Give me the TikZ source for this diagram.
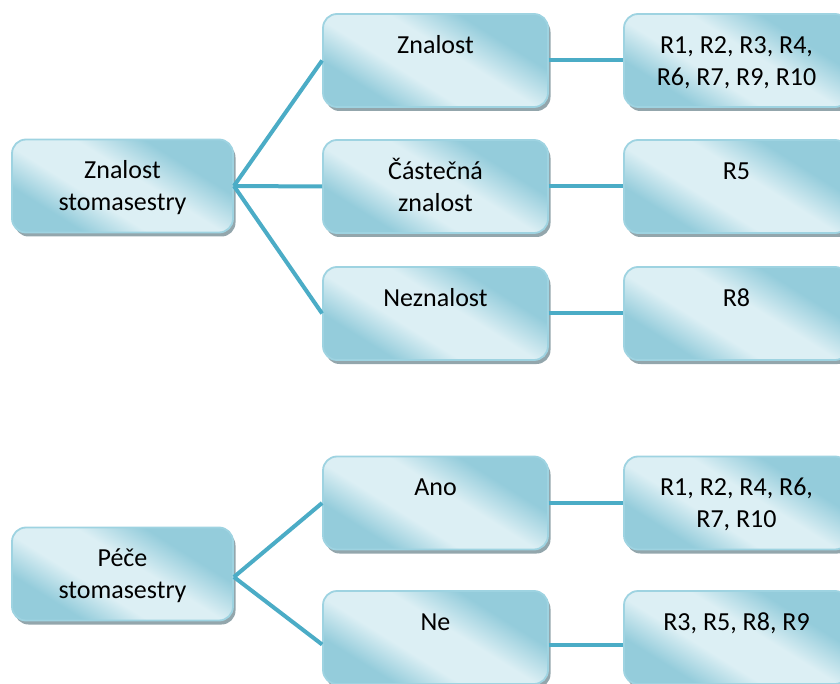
\documentclass[tikz,border=0pt]{standalone}
\usepackage{fontspec}
\setmainfont{Carlito}
\usetikzlibrary{shadows}

\definecolor{boxlight}{HTML}{DCEFF4}
\definecolor{boxdark}{HTML}{94CCDB}
\definecolor{boxedge}{HTML}{9ED3E1}
\definecolor{linkc}{HTML}{4BACC6}
\definecolor{shadowc}{HTML}{93A6AC}

% diagonal sheen: darker corners, broad light band across the middle
\pgfdeclarehorizontalshading{boxfill}{100bp}{%
  color(0bp)=(boxdark); color(29bp)=(boxdark); color(41bp)=(boxlight);
  color(55bp)=(boxlight); color(68bp)=(boxdark); color(100bp)=(boxdark)}

\newcommand{\firstline}{\rule{0pt}{25pt}}

\tikzset{
  card/.style={rectangle, rounded corners=14pt, draw=boxedge, line width=1.8pt,
    shading=boxfill, shading angle=58, minimum width=#1, minimum height=93pt,
    inner sep=0pt,
    drop shadow={shadow xshift=2.5pt, shadow yshift=-4pt, fill=shadowc, opacity=1}},
  card/.default=225pt,
  txt/.style={anchor=north, inner sep=0pt, align=center,
    font=\fontsize{26}{32}\selectfont},
  link/.style={draw=linkc, line width=4pt}
}

\begin{document}
\begin{tikzpicture}[x=1pt, y=-1pt]
  \useasboundingbox (0,0) rectangle (840,684);
  \clip (0,0) rectangle (840,684);

  % first tree: knowledge
  \node[card=221pt] (r1) at (122.5,186) {};
  \node[card] (m1) at (435.5,60.5) {};
  \node[card] (m2) at (435.5,186.5) {};
  \node[card] (m3) at (435.5,313.5) {};
  \node[card] (o1) at (736.5,60.5) {};
  \node[card] (o2) at (736.5,186.5) {};
  \node[card] (o3) at (736.5,313.5) {};

  % second tree: care
  \node[card=221pt] (r2) at (122.5,574) {};
  \node[card] (m4) at (435.5,503) {};
  \node[card] (m5) at (435.5,637.5) {};
  \node[card] (o4) at (736.5,503) {};
  \node[card] (o5) at (736.5,637.5) {};

  % labels
  \node[txt] (tr1) at ([yshift=-15pt]r1.north) {\firstline Znalost\\stomasestry};
  \node[txt] (tm1) at ([yshift=-15pt]m1.north) {\firstline Znalost};
  \node[txt] (tm2) at ([yshift=-15pt]m2.north) {\firstline Částečná\\znalost};
  \node[txt] (tm3) at ([yshift=-15pt]m3.north) {\firstline Neznalost};
  \node[txt] (to1) at ([yshift=-15pt]o1.north) {\firstline R1, R2, R3, R4,\\R6, R7, R9, R10};
  \node[txt] (to2) at ([yshift=-15pt]o2.north) {\firstline R5};
  \node[txt] (to3) at ([yshift=-15pt]o3.north) {\firstline R8};

  \node[txt] (tr2) at ([yshift=-15pt]r2.north) {\firstline Péče\\stomasestry};
  \node[txt] (tm4) at ([yshift=-15pt]m4.north) {\firstline Ano};
  \node[txt] (tm5) at ([yshift=-15pt]m5.north) {\firstline Ne};
  \node[txt] (to4) at ([yshift=-15pt]o4.north) {\firstline R1, R2, R4, R6,\\R7, R10};
  \node[txt] (to5) at ([yshift=-15pt]o5.north) {\firstline R3, R5, R8, R9};

  % connectors
  \draw[link] (r1.east) -- (m1.west);
  \draw[link] (r1.east) -- (m2.west);
  \draw[link] (r1.east) -- (m3.west);
  \draw[link] (m1.east) -- (o1.west);
  \draw[link] (m2.east) -- (o2.west);
  \draw[link] (m3.east) -- (o3.west);

  \draw[link] ([yshift=-3pt]r2.east) -- (m4.west);
  \draw[link] ([yshift=-3pt]r2.east) -- ([yshift=-7pt]m5.west);
  \draw[link] (m4.east) -- (o4.west);
  \draw[link] ([yshift=-7pt]m5.east) -- ([yshift=-7pt]o5.west);
\end{tikzpicture}
\end{document}
